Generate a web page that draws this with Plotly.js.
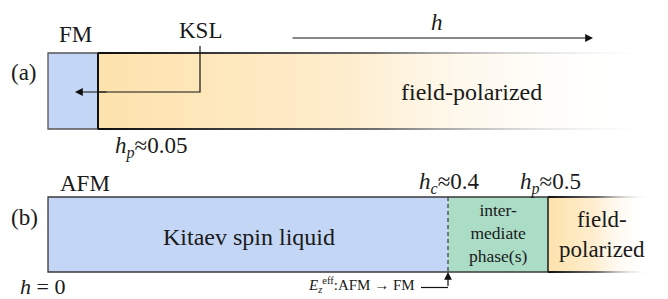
<!DOCTYPE html>
<html><head><meta charset="utf-8">
<script src="https://cdn.plot.ly/plotly-3.0.1.min.js"></script>
<style>html,body{margin:0;padding:0;background:#fff}</style>
</head><body>
<div id="chart" style="width:668px;height:299px"></div>
<script>
// ---- data: phase boundaries (field h) ----
const boundsA = [0, 0.05, 0.6];
const phasesA = ['FM', 'field-polarized'];
const boundsB = [0, 0.4, 0.5, 0.6];
const phasesB = ['Kitaev spin liquid', 'inter-<br>mediate<br>phase(s)', 'field-<br>polarized'];
const hpA = 0.05, hcB = 0.4, hpB = 0.5;

// ---- style ----
const FONT = 'Liberation Serif';
const BLUE = '#c3d6f5', GREEN = '#aadcc6';
const ORANGE = 'rgba(253,226,172,1)', MID = 'rgba(254,237,205,1)', FADE = 'rgba(255,255,255,0)';
const EDGE = '#3a3a3a';
const bandA = [53, 129], bandB = [197, 272];

const traces = [];
function rect(x0, x1, y0, y1, fill) {
  traces.push({type:'scatter', mode:'lines', x:[x0,x1,x1,x0,x0], y:[y0,y0,y1,y1,y0],
    fill:'toself', fillcolor:fill, line:{width:0}, hoverinfo:'skip', showlegend:false});
}
function gradRect(x0, x1, y0, y1, scale) {
  traces.push({type:'scatter', mode:'lines', x:[x0,x1,x1,x0,x0], y:[y0,y0,y1,y1,y0],
    fill:'toself', fillgradient:{type:'horizontal', colorscale:scale},
    line:{width:0}, hoverinfo:'skip', showlegend:false});
}
function line(x, y, color, width, dash) {
  traces.push({type:'scatter', mode:'lines', x:x, y:y, line:{color:color, width:width, dash:dash||'solid'},
    hoverinfo:'skip', showlegend:false});
}
const edgeScale = [[0,'rgba(15,15,15,1)'],[0.5,'rgba(110,110,110,1)'],[1,'rgba(230,230,230,0)']];
const fillScale = [[0,ORANGE],[0.45,MID],[1,FADE]];

// panel (a)
rect(boundsA[0], boundsA[1], bandA[0], bandA[1], BLUE);
gradRect(boundsA[1], boundsA[2], bandA[0], bandA[1], fillScale);
gradRect(boundsA[1], boundsA[2], bandA[0]-0.9, bandA[0]+0.9, edgeScale);
gradRect(boundsA[1], boundsA[2], bandA[1]-0.9, bandA[1]+0.9, edgeScale);
line([boundsA[1], boundsA[0], boundsA[0], boundsA[1]], [bandA[0], bandA[0], bandA[1], bandA[1]], '#555', 1.3);
line([boundsA[1], boundsA[1]], [bandA[0], bandA[1]], '#111', 2);

// panel (b)
rect(boundsB[0], boundsB[1], bandB[0], bandB[1], BLUE);
rect(boundsB[1], boundsB[2], bandB[0], bandB[1], GREEN);
gradRect(boundsB[2], boundsB[3], bandB[0], bandB[1], fillScale);
gradRect(boundsB[2], boundsB[3], bandB[0]-0.9, bandB[0]+0.9, edgeScale);
gradRect(boundsB[2], boundsB[3], bandB[1]-0.9, bandB[1]+0.9, edgeScale);
line([boundsB[2], boundsB[0], boundsB[0], boundsB[2]], [bandB[0], bandB[0], bandB[1], bandB[1]], EDGE, 1.3);
line([boundsB[1], boundsB[1]], [bandB[0], bandB[1]], EDGE, 1.2, '4px,3px');
line([boundsB[2], boundsB[2]], [bandB[0], bandB[1]], '#222', 1.6);

// elbow connectors
const kslX = 0.152;
line([kslX, kslX, 0.05], [46, 92, 92], '#111', 1.2);
line([0.373, hcB], [287.5, 287.5], '#111', 1.2);

const ann = [];
function txt(x, y, text, size, extra) {
  const a = {x:x, y:y, xref:'x', yref:'y', text:text, showarrow:false,
    font:{family:FONT, size:size, color:'#1a1a1a'}, xanchor:'center', yanchor:'middle'};
  if (extra) for (const k in extra) a[k] = extra[k];
  ann.push(a);
}
function arrow(x, y, ax, ay) {
  ann.push({x:x, y:y, ax:ax, ay:ay, xref:'x', yref:'y', axref:'x', ayref:'y', text:'',
    showarrow:true, arrowhead:2, arrowsize:1.3, arrowwidth:1.2, arrowcolor:'#111'});
}
arrow(0.027, 92, 0.06, 92);
arrow(0.545, 38, 0.243, 38);
arrow(hcB, 272, hcB, 287.5);

txt(-0.024, 72, '(a)', 23);
txt(0.027, 34, 'FM', 23);
txt(kslX, 30, 'KSL', 23);
txt(0.389, 22, '<i>h</i>', 23);
txt(0.423, 92, phasesA[1], 24);
txt(hpA + 0.053, 147, '<i>h</i><sub><i>p</i></sub>≈0.05', 23);

txt(-0.024, 217, '(b)', 23);
txt(0.037, 183, 'AFM', 23);
txt(0.201, 237, phasesB[0], 24);
txt(hcB + 0.001, 183, '<i>h</i><sub><i>c</i></sub>≈0.4', 23);
txt(hpB + 0.002, 183, '<i>h</i><sub><i>p</i></sub>≈0.5', 23);
txt((boundsB[1]+boundsB[2])/2, 233, phasesB[1], 17.5);
txt(0.554, 234, phasesB[2], 23);
txt(-0.030, 286, '<i>h</i> = 0', 22, {xanchor:'left'});
txt(0.369, 285, '<i>E</i><sub><i>z</i></sub><sup>eff</sup>:AFM → FM', 15, {xanchor:'right'});

const layout = {
  width:668, height:299, margin:{l:0, r:0, t:0, b:0},
  font:{family:FONT, color:'#1a1a1a'},
  paper_bgcolor:'#fff', plot_bgcolor:'#fff', showlegend:false,
  xaxis:{range:[-0.048, 0.62], visible:false, fixedrange:true},
  yaxis:{range:[299, 0], visible:false, fixedrange:true},
  annotations: ann
};
Plotly.newPlot('chart', traces, layout, {staticPlot:true, displayModeBar:false});
</script>
</body></html>
